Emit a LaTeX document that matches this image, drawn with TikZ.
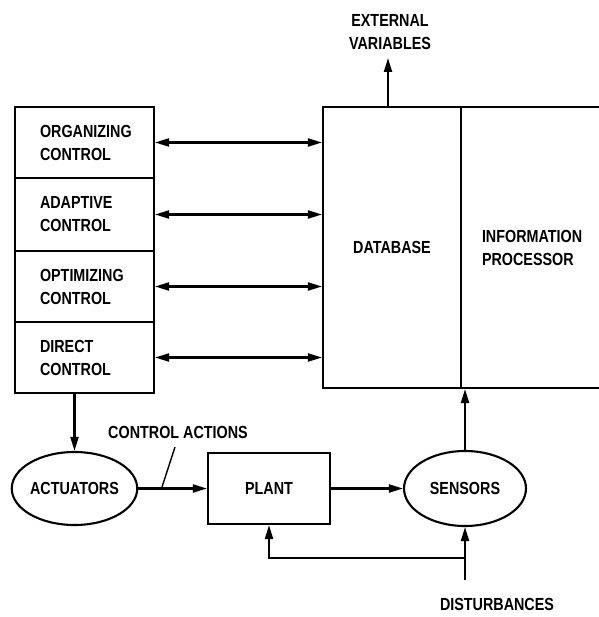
\documentclass[tikz,border=0pt]{standalone}
\usepackage{fontspec}
\setmainfont{Liberation Sans}[FakeStretch=0.82]
\usetikzlibrary{arrows.meta,shapes.geometric}
\begin{document}
\begin{tikzpicture}[x=1pt,y=-1pt,
  every node/.style={font=\bfseries\fontsize{17.5}{23}\selectfont, inner sep=0pt},
  ln/.style={line width=2.1pt},
  arr/.style={ln,-{Triangle[length=14pt,width=8pt]}},
  barr/.style={ln,{Triangle[length=14pt,width=8pt]}-{Triangle[length=14pt,width=8pt]}},
  ctrlbox/.style={draw,ln,rectangle,minimum width=139pt,text width=89pt,inner xsep=25pt,align=left},
  lbl/.style={align=center}
]
\useasboundingbox (0,0) rectangle (598,617);
% control stack
\node[ctrlbox,minimum height=71pt] (org) at (84.5,142.5) {ORGANIZING\\CONTROL};
\node[ctrlbox,minimum height=73pt] (ada) at (84.5,214.5) {ADAPTIVE\\CONTROL};
\node[ctrlbox,minimum height=71pt] (opt) at (84.5,286.5) {OPTIMIZING\\CONTROL};
\node[ctrlbox,minimum height=71pt] (dir) at (84.5,357.5) {DIRECT\\CONTROL};
% database and processor
\node[draw,ln,rectangle,minimum width=138pt,minimum height=281pt] (db) at (392,247.5) {DATABASE};
\node[draw,ln,rectangle,minimum width=144pt,minimum height=281pt,text width=102pt,inner xsep=21pt,align=left] (ip) at (533,247.5) {INFORMATION\\PROCESSOR};
% arrows stack <-> database
\draw[barr] (org.east) -- (org.east -| db.west);
\draw[barr] (ada.east) -- (ada.east -| db.west);
\draw[barr] (opt.east) -- (opt.east -| db.west);
\draw[barr] (dir.east) -- (dir.east -| db.west);
% external variables
\coordinate (ext) at (388,58);
\node[lbl] (extlbl) at (390,32) {EXTERNAL\\VARIABLES};
\draw[arr] (ext |- db.north) -- (ext);
% bottom row
\node[draw,ln,ellipse,minimum width=125pt,minimum height=73pt] (act) at (74.5,488.5) {ACTUATORS};
\node[draw,ln,rectangle,minimum width=122pt,minimum height=71pt] (plant) at (269,488.5) {PLANT};
\node[draw,ln,ellipse,minimum width=122pt,minimum height=75pt] (sens) at (465,488.5) {SENSORS};
\draw[arr] (dir.south -| act.north) -- (act.north);
\draw[arr] (act.east) -- (plant.west);
\draw[arr] (plant.east) -- (sens.west);
\draw[arr] (sens.north) -- (sens.north |- ip.south);
% control actions label
\node (ca) at (178,432) {CONTROL ACTIONS};
\coordinate (lead) at (162,487);
\draw[ln,line width=1.4pt] (175,447) -- (lead);
% disturbances
\node (dlbl) at (497,604) {DISTURBANCES};
\coordinate (dist) at (465,580);
\coordinate (br) at (465,558);
\draw[arr] (dist) -- (sens.south);
\draw[arr] (br) -| (plant.south);
\end{tikzpicture}
\end{document}
